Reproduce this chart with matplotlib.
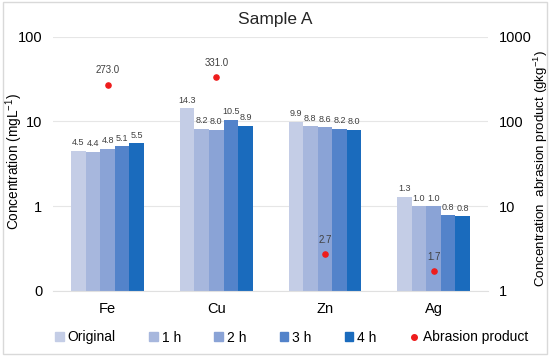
import matplotlib.pyplot as plt
import numpy as np
from matplotlib.lines import Line2D
from matplotlib.patches import Patch

metals = ['Fe', 'Cu', 'Zn', 'Ag']
series = ['Original', '1 h', '2 h', '3 h', '4 h']
original = [4.5, 14.3, 9.9, 1.3]
h1 = [4.4, 8.2, 8.8, 1.0]
h2 = [4.8, 8.0, 8.6, 1.0]
h3 = [5.1, 10.5, 8.2, 0.78]
h4 = [5.5, 8.9, 8.0, 0.76]
abrasion = [273.0, 331.0, 2.7, 1.7]

colors = ['#c4cde6', '#a7b7dd', '#8aa3d6', '#5383ca', '#1a6bbd']
plt.rcParams['font.family'] = ['Liberation Sans', 'DejaVu Sans']
plt.rcParams['mathtext.fontset'] = 'custom'
plt.rcParams['mathtext.rm'] = 'Liberation Sans'
plt.rcParams['mathtext.it'] = 'Liberation Sans'

fig = plt.figure(figsize=(5.5, 3.57), dpi=100)
ax = fig.add_axes([0.097, 0.185, 0.79, 0.712])
ax2 = ax.twinx()

x = np.arange(len(metals))
w = 0.134
base = 0.1
data = [original, h1, h2, h3, h4]
for i, vals in enumerate(data):
    xs = x + (i - 2) * w
    ax.bar(xs, np.array(vals) - base, w, color=colors[i], bottom=base, zorder=2)
    for xx, v in zip(xs, vals):
        ax.text(xx, v * 1.1, '%.1f' % v, ha='center', va='bottom', fontsize=6.5, color='#404040')

ax.set_yscale('log')
ax.set_ylim(0.1, 100)
ax.set_xlim(-0.5, 3.5)
ax.set_yticks([0.1, 1, 10, 100])
ax.set_yticklabels(['0', '1', '10', '100'])
ax.minorticks_off()
ax.grid(axis='y', color='#e6e6e6', lw=0.8, zorder=0)
ax.set_xticks(x)
ax.set_xticklabels(metals)
ax.tick_params(length=0, labelsize=10.5, pad=8)
ax.tick_params(axis='y', pad=8)
for s in ax.spines.values():
    s.set_visible(False)
ax.spines['bottom'].set_visible(True)
ax.spines['bottom'].set_color('#e0e0e0')
ax.set_ylabel('Concentration (mgL$^{\\mathrm{-1}}$)', fontsize=9.8)
ax.yaxis.set_label_coords(-0.066, 0.51)

ax2.set_yscale('log')
ax2.set_ylim(1, 1000)
ax2.set_yticks([1, 10, 100, 1000])
ax2.set_yticklabels(['1', '10', '100', '1000'])
ax2.minorticks_off()
ax2.tick_params(length=0, labelsize=10.5, pad=8)
for s in ax2.spines.values():
    s.set_visible(False)
ax2.scatter(x, abrasion, s=14, color='#ee1c1c', zorder=5)
for xx, v in zip(x, abrasion):
    ax2.text(xx, v * 1.28, '%.1f' % v, ha='center', va='bottom', fontsize=7, color='#404040')
ax2.set_ylabel('Concentration  abrasion product (gkg$^{\\mathrm{-1}}$)', fontsize=9.6)
ax2.yaxis.set_label_coords(1.1, 0.48)

fig.suptitle('Sample A', fontsize=12.5, color='#262626', x=0.5, y=0.965)

handles = [Patch(color=c) for c in colors]
handles.append(Line2D([], [], marker='o', ls='', color='#ee1c1c', markersize=4))
fig.legend(handles, series + ['Abrasion product'], loc='lower center', ncol=6,
           bbox_to_anchor=(0.53, 0.0), frameon=False, fontsize=10,
           handlelength=0.6, handleheight=0.6, handletextpad=0.3, columnspacing=2.4)

fig.patches.append(plt.Rectangle((0.005, 0.008), 0.99, 0.985, transform=fig.transFigure,
                                 fill=False, edgecolor='#d9d9d9', lw=1))
fig.savefig('out.png', dpi=100)
